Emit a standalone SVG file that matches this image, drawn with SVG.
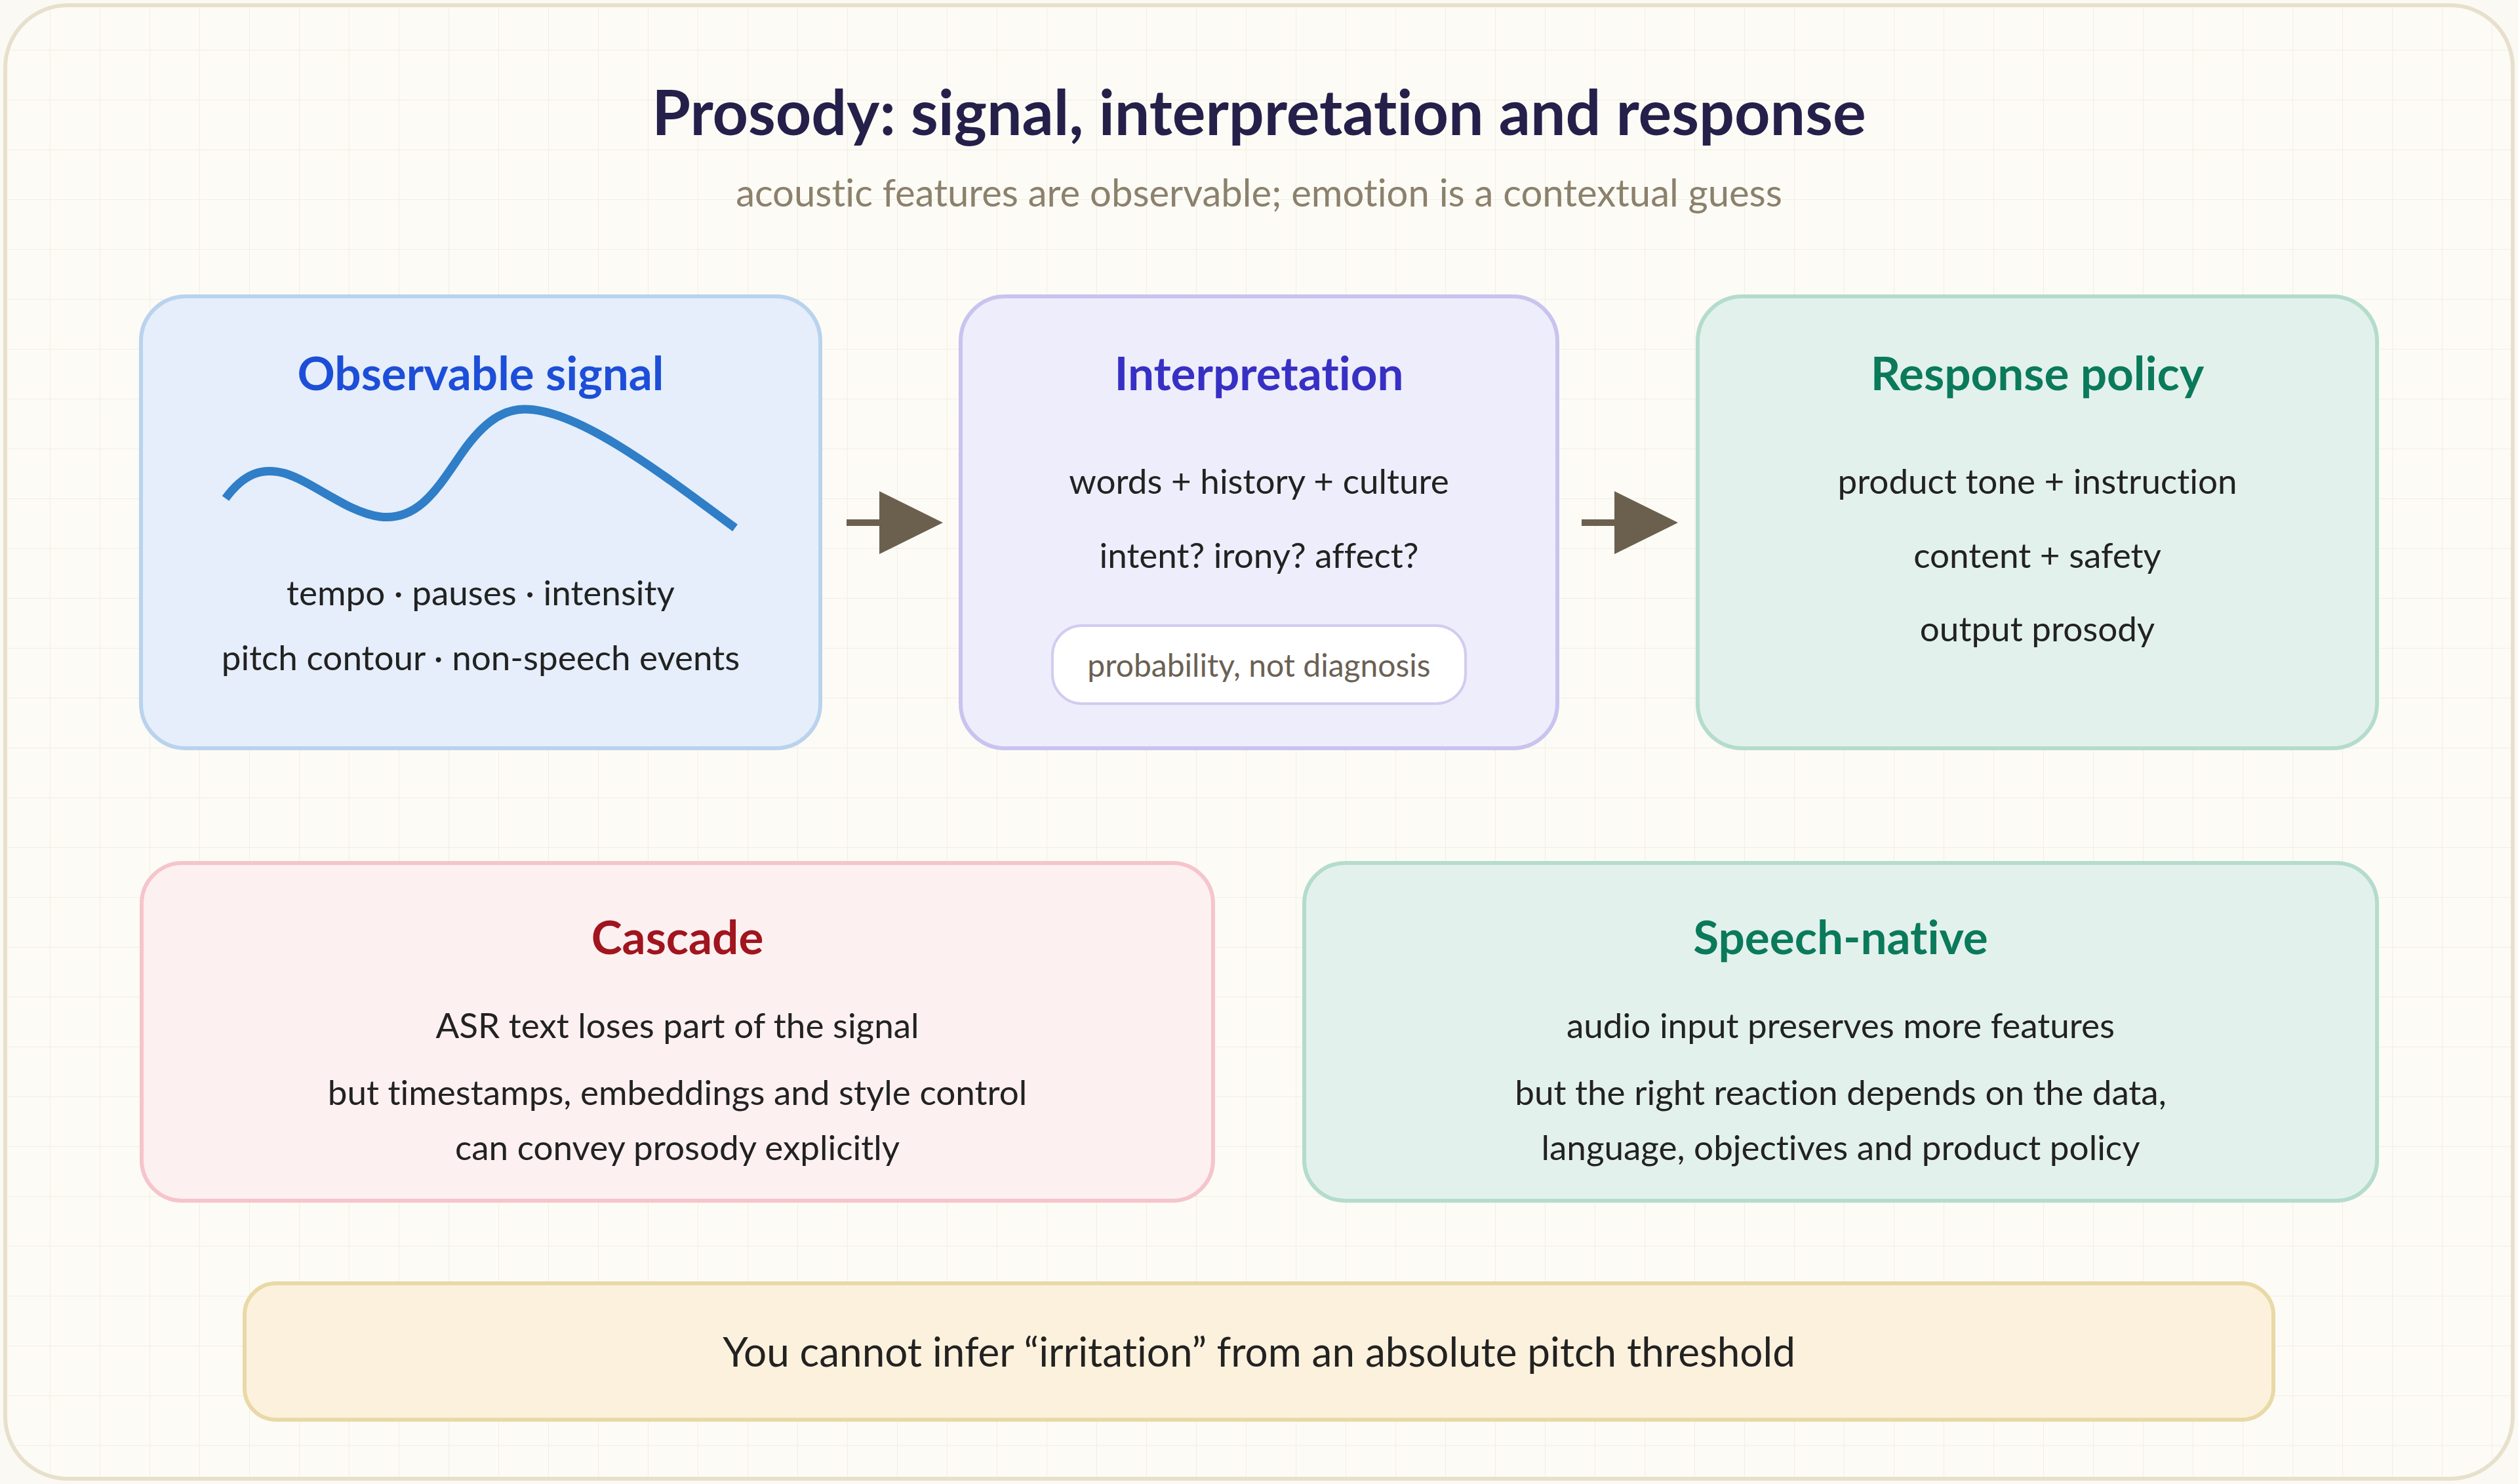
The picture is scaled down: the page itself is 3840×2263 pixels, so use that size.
<svg xmlns="http://www.w3.org/2000/svg" width="3840" height="2263" viewBox="0 0 3840 2263">
  <style>
    text { font-family: Lato, "Noto Sans", "Liberation Sans", sans-serif; text-anchor: middle; font-variant-ligatures: none; font-feature-settings: "liga" 0, "dlig" 0; }
    .title { font-size: 95px; font-weight: 700; fill: #25204a; }
    .sub { font-size: 58px; fill: #8b816c; }
    .head { font-size: 71px; font-weight: 700; }
    .body { font-size: 53px; fill: #222222; }
    .pilltxt { font-size: 48px; fill: #6b6154; }
    .banner { font-size: 62px; fill: #222222; }
    .box { stroke-width: 6; }
  </style>
  <defs>
    <pattern id="grid" width="76" height="76" patternUnits="userSpaceOnUse">
      <path d="M76 0 L0 0 0 76" fill="none" stroke="#f2eee3" stroke-width="2"/>
    </pattern>
    <marker id="arrow" viewBox="0 0 97 96" refX="4" refY="48" markerWidth="97" markerHeight="96" markerUnits="userSpaceOnUse" orient="auto">
      <path d="M0 0 L97 48 L0 96 Z" fill="#6b604e"/>
    </marker>
  </defs>

  <rect x="0" y="0" width="3840" height="2263" fill="#fbf9f3"/>
  <rect x="8" y="8" width="3824" height="2247" rx="95" fill="#fdfbf6" stroke="#e6e0cc" stroke-width="6"/>
  <rect x="11" y="11" width="3818" height="2241" rx="92" fill="url(#grid)"/>

  <g id="header">
    <text class="title" x="1920" y="206">Prosody: signal, interpretation and response</text>
    <text class="sub" x="1920" y="315">acoustic features are observable; emotion is a contextual guess</text>
  </g>

  <g id="observable">
    <rect class="box" x="215" y="452" width="1036" height="689" rx="68" fill="#e5eefa" stroke="#b9d3ee"/>
    <text class="head" x="733" y="595" fill="#1d4ed8">Observable signal</text>
    <path d="M344 760 C372 722 400 712 435 722 C480 736 530 782 580 788 C640 795 670 740 705 690 C740 640 770 624 800 624 C880 624 1000 715 1121 805" fill="none" stroke="#2f7ec7" stroke-width="13"/>
    <text class="body" x="733" y="923">tempo · pauses · intensity</text>
    <text class="body" x="733" y="1022">pitch contour · non-speech events</text>
  </g>

  <g id="interpretation">
    <rect class="box" x="1465" y="452" width="910" height="689" rx="68" fill="#eeedfb" stroke="#c9c3ef"/>
    <text class="head" x="1920" y="595" fill="#3730c4">Interpretation</text>
    <text class="body" x="1920" y="753">words + history + culture</text>
    <text class="body" x="1920" y="866">intent? irony? affect?</text>
    <rect x="1605" y="954" width="630" height="119" rx="45" fill="#ffffff" stroke="#d2cbf0" stroke-width="4"/>
    <text class="pilltxt" x="1920" y="1032">probability, not diagnosis</text>
  </g>

  <g id="response">
    <rect class="box" x="2589" y="452" width="1036" height="689" rx="68" fill="#e3f1ed" stroke="#b4dccd"/>
    <text class="head" x="3107" y="595" fill="#0a7a5a">Response policy</text>
    <text class="body" x="3107" y="753">product tone + instruction</text>
    <text class="body" x="3107" y="866">content + safety</text>
    <text class="body" x="3107" y="978">output prosody</text>
  </g>

  <g id="cascade">
    <rect class="box" x="216" y="1316" width="1634" height="515" rx="62" fill="#fdf0f1" stroke="#f5c5cb"/>
    <text class="head" x="1033" y="1455" fill="#a0151e">Cascade</text>
    <text class="body" x="1033" y="1583">ASR text loses part of the signal</text>
    <text class="body" x="1033" y="1685">but timestamps, embeddings and style control</text>
    <text class="body" x="1033" y="1769">can convey prosody explicitly</text>
  </g>

  <g id="speech-native">
    <rect class="box" x="1989" y="1316" width="1636" height="515" rx="62" fill="#e3f1ed" stroke="#b4dccd"/>
    <text class="head" x="2807" y="1455" fill="#0a7a5a">Speech-native</text>
    <text class="body" x="2807" y="1583">audio input preserves more features</text>
    <text class="body" x="2807" y="1685">but the right reaction depends on the data,</text>
    <text class="body" x="2807" y="1769">language, objectives and product policy</text>
  </g>

  <g id="takeaway">
    <rect x="373" y="1957" width="3094" height="208" rx="48" fill="#fcf1dc" stroke="#e8d9a6" stroke-width="6"/>
    <text class="banner" x="1920" y="2084">You cannot infer “irritation” from an absolute pitch threshold</text>
  </g>

  <g id="connectors">
    <line x1="1291" y1="797" x2="1345" y2="797" stroke="#6b604e" stroke-width="10" marker-end="url(#arrow)"/>
    <line x1="2412" y1="797" x2="2466" y2="797" stroke="#6b604e" stroke-width="10" marker-end="url(#arrow)"/>
  </g>
</svg>
